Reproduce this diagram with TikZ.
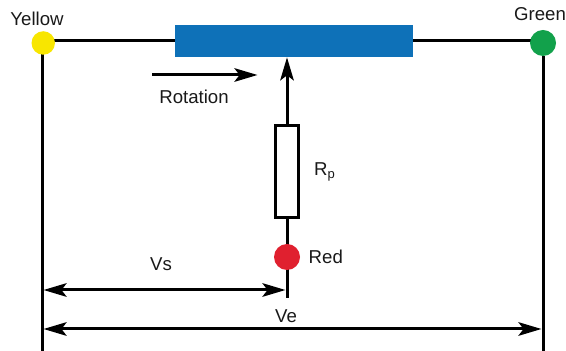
\documentclass[tikz,border=0pt]{standalone}
\usepackage{fontspec}
\usepackage{amsmath}
\setmainfont{Liberation Sans}
\usetikzlibrary{calc,positioning,arrows.meta,backgrounds}
\tikzset{
	>={Stealth[length=0.46cm,width=0.27cm,inset=0.10cm]},
	wire/.style={line width=0.06cm,black},
	terminal/.style={circle,inner sep=0pt},
	label text/.style={inner sep=0pt,font=\fontsize{10.6pt}{12pt}\selectfont,text=black!90},
}
\definecolor{rotorblue}{HTML}{0E71B8}
\definecolor{wiperyellow}{HTML}{F8E600}
\definecolor{wipergreen}{HTML}{12A14B}
\definecolor{wiperred}{HTML}{E0202F}

\begin{document}
\begin{tikzpicture}
		\useasboundingbox (0,0) rectangle (11.32,7.02);

		\node[terminal, fill=wiperyellow, minimum size=0.47cm] (yellow) at (0.865,6.16) {};
		\node[terminal, fill=wipergreen, minimum size=0.52cm] (green) at (10.86,6.16) {};
		\node[terminal, fill=wiperred, minimum size=0.52cm] (red) at (5.74,1.88) {};
		\node[fill=rotorblue, inner sep=0pt, minimum width=4.75cm, minimum height=0.64cm] (rotor) at (5.88,6.20) {};
		\node[draw, line width=0.06cm, fill=white, inner sep=0pt, minimum width=0.46cm, minimum height=1.84cm] (rp) at (5.74,3.59) {};

		\node[label text] (yellowtext) at (0.74,6.64) {Yellow};
		\node[label text] (greentext) at (10.80,6.74) {Green};
		\node[label text] (rotationtext) at (3.88,5.08) {Rotation};
		\node[label text] (rptext) at (6.50,3.58) {R$_{\text{p}}$};
		\node[label text, right=0.16cm of red] (redtext) {Red};
		\node[label text] (vstext) at (3.22,1.74) {Vs};
		\node[label text] (vetext) at (5.72,0.70) {Ve};

		\coordinate (yellowfoot) at (0.84,0);
		\coordinate (greenfoot) at (10.86,0);
		\coordinate (redfoot) at (5.74,1.06);
		\coordinate (rotationstart) at (3.04,5.52);
		\coordinate (rotationend) at (5.15,5.52);
		\coordinate (vsstart) at (0.87,1.22);
		\coordinate (vsend) at (5.71,1.22);
		\coordinate (vestart) at (0.87,0.44);
		\coordinate (veend) at (10.83,0.44);

		\begin{scope}[on background layer]
			\draw[wire] (yellow.center |- rotor) -- (rotor);
			\draw[wire] (rotor) -- (green.center |- rotor);
			\draw[wire] (yellow.center -| yellowfoot) -- (yellowfoot);
			\draw[wire] (green) -- (greenfoot);
			\draw[wire] (rp) -- (redfoot);
		\end{scope}

		\draw[wire, ->] (rp.north) -- (rp.north |- rotor.south);
		\draw[wire, ->] (rotationstart) -- (rotationend);
		\draw[wire, <->] (vsstart) -- (vsend);
		\draw[wire, <->] (vestart) -- (veend);
	\end{tikzpicture}
\end{document}
